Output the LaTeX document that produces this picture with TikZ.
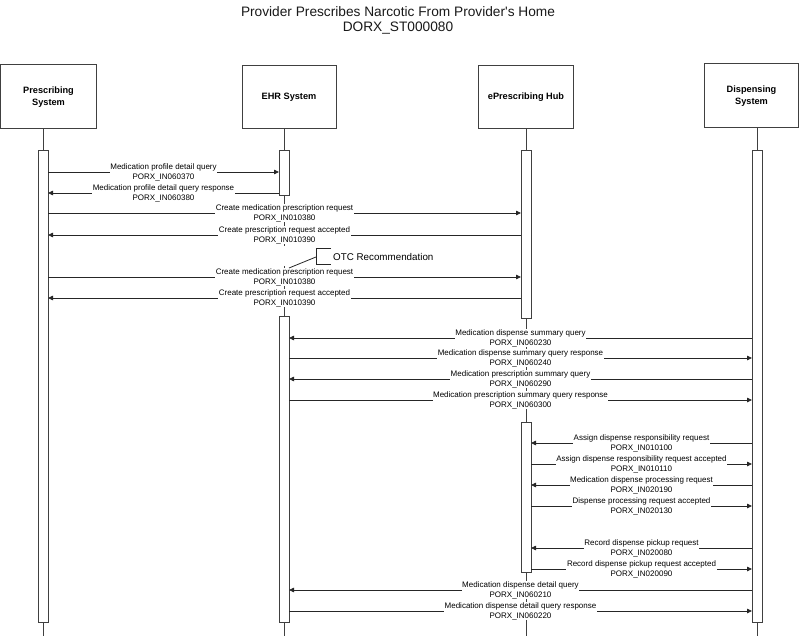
\documentclass[tikz,border=0pt]{standalone}
\usepackage{fontspec}
\setmainfont{Liberation Sans}[Ligatures=TeXOff]
\usetikzlibrary{arrows.meta}
\newcommand{\seqmsg}[6]{%
  \coordinate (#1a) at (#2,#4);
  \coordinate (#1b) at (#3,#4);
  \draw[msgline] (#1a) -- (#1b) node[midway,msglabel] (#1l) {#5\\#6};
}
\begin{document}
\begin{tikzpicture}[x=1pt,y=-1pt,
  objbox/.style={draw=black!75, line width=1pt, fill=white, align=center,
    font=\fontsize{9.2}{11.4}\selectfont\bfseries, inner sep=0pt},
  actbar/.style={draw=black!75, line width=0.9pt, fill=white, inner sep=0pt, minimum width=10pt},
  lifeline/.style={draw=black!75, line width=0.9pt},
  msgline/.style={draw=black!85, line width=0.8pt, -{Triangle[length=5pt,width=4.5pt]}},
  msglabel/.style={fill=white, inner sep=0.6pt, align=center, font=\fontsize{8}{10}\selectfont},
  notebr/.style={draw=black!85, line width=0.8pt}
]
\useasboundingbox (0,0) rectangle (800,636);

% title
\node[font=\fontsize{13.7}{15}\selectfont, align=center, text=black!90] (title) at (398,20.5)
  {Provider Prescribes Narcotic From Provider's Home\\DORX\_ST000080};

% lifelines
\coordinate (psT) at (43,129);  \coordinate (psB) at (43,636);
\coordinate (ehT) at (284,129); \coordinate (ehB) at (284,636);
\coordinate (ehG1) at (284,246); \coordinate (ehG2) at (284,266);
\coordinate (hbT) at (526,129); \coordinate (hbB) at (526,636);
\coordinate (dsT) at (757,128); \coordinate (dsB) at (757,636);
\draw[lifeline] (psT) -- (psB);
\draw[lifeline] (ehT) -- (ehG1);
\draw[lifeline] (ehG2) -- (ehB);
\draw[lifeline] (hbT) -- (hbB);
\draw[lifeline] (dsT) -- (dsB);

% object boxes
\node[objbox, minimum width=96pt, minimum height=64pt] (ps) at (48.5,97) {Prescribing\\System};
\node[objbox, minimum width=94pt, minimum height=63pt] (eh) at (289,97.5) {EHR System};
\node[objbox, minimum width=95pt, minimum height=63pt] (hb) at (526,97.5) {ePrescribing Hub};
\node[objbox, minimum width=94pt, minimum height=64pt] (ds) at (751.5,96) {Dispensing\\System};

% activation bars
\node[actbar, minimum height=472pt] (psbar) at (43,386) {};
\node[actbar, minimum height=45pt] (ehbar1) at (284,172.5) {};
\node[actbar, minimum height=168pt] (hbbar1) at (526,234) {};
\node[actbar, minimum height=472pt] (dsbar) at (757,386) {};
\node[actbar, minimum height=306pt] (ehbar2) at (284,469) {};
\node[actbar, minimum height=150pt] (hbbar2) at (526,497) {};

% messages
\seqmsg{m1}{48}{279}{172}{Medication profile detail query}{PORX\_IN060370}
\seqmsg{m2}{279}{48}{193}{Medication profile detail query response}{PORX\_IN060380}
\seqmsg{m3}{48}{521}{213}{Create medication prescription request}{PORX\_IN010380}
\seqmsg{m4}{521}{48}{235}{Create prescription request accepted}{PORX\_IN010390}
\seqmsg{m6}{48}{521}{277}{Create medication prescription request}{PORX\_IN010380}
\seqmsg{m7}{521}{48}{298}{Create prescription request accepted}{PORX\_IN010390}
\seqmsg{m8}{752}{289}{338}{Medication dispense summary query}{PORX\_IN060230}
\seqmsg{m9}{289}{752}{358}{Medication dispense summary query response}{PORX\_IN060240}
\seqmsg{m10}{752}{289}{379}{Medication prescription summary query}{PORX\_IN060290}
\seqmsg{m11}{289}{752}{400}{Medication prescription summary query response}{PORX\_IN060300}
\seqmsg{m12}{752}{531}{443}{Assign dispense responsibility request}{PORX\_IN010100}
\seqmsg{m13}{531}{752}{464}{Assign dispense responsibility request accepted}{PORX\_IN010110}
\seqmsg{m14}{752}{531}{485}{Medication dispense processing request}{PORX\_IN020190}
\seqmsg{m15}{531}{752}{506}{Dispense processing request accepted}{PORX\_IN020130}
\seqmsg{m16}{752}{531}{548}{Record dispense pickup request}{PORX\_IN020080}
\seqmsg{m17}{531}{752}{569}{Record dispense pickup request accepted}{PORX\_IN020090}
\seqmsg{m18}{752}{289}{590}{Medication dispense detail query}{PORX\_IN060210}
\seqmsg{m19}{289}{752}{611}{Medication dispense detail query response}{PORX\_IN060220}

% OTC note
\coordinate (nbTR) at (331,248);
\coordinate (nbTL) at (316,248);
\coordinate (nbBL) at (316,264);
\coordinate (nbBR) at (331,264);
\draw[notebr] (nbTR) -- (nbTL) -- (nbBL) -- (nbBR);
\node[anchor=west, inner sep=0pt, font=\fontsize{9.8}{12}\selectfont] (otc) at (333,256.5) {OTC Recommendation};
\coordinate (nbM) at (316,257);
\coordinate (nbEnd) at (289,268);
\draw[notebr] (nbM) -- (nbEnd);
\end{tikzpicture}
\end{document}
